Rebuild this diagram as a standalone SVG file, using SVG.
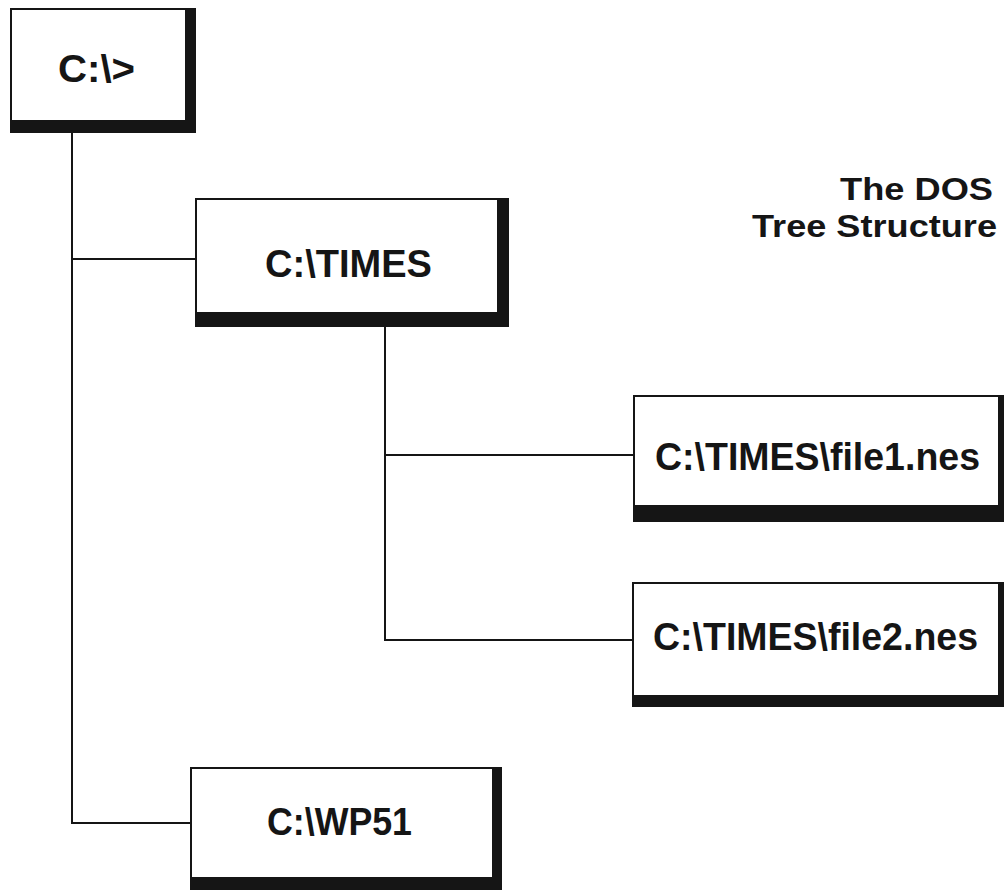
<svg xmlns="http://www.w3.org/2000/svg" width="1004" height="890" viewBox="0 0 1004 890">
<style>
.sh{fill:#151515}
.in{fill:#ffffff}
.lbl{font-family:"Liberation Sans",Arial,sans-serif;font-weight:bold;font-size:39px;fill:#151515}
.ttl{font-family:"Liberation Sans",Arial,sans-serif;font-weight:bold;font-size:31px;fill:#151515}
.cn{stroke:#151515;stroke-width:2;fill:none}
</style>
<rect width="1004" height="890" fill="#ffffff"/>
<g id="connectors">
<path class="cn" d="M72 133 V823 H190"/>
<path class="cn" d="M72 259 H195"/>
<path class="cn" d="M385 327 V640 H632"/>
<path class="cn" d="M385 455 H633"/>
</g>
<g id="node-root">
<rect class="sh" x="10" y="8" width="186" height="125"/>
<rect class="in" x="12" y="10" width="173" height="110"/>
<text class="lbl" x="58" y="82" textLength="77" lengthAdjust="spacingAndGlyphs">C:\&gt;</text>
</g>
<g id="node-times">
<rect class="sh" x="195" y="198" width="314" height="129"/>
<rect class="in" x="197" y="200" width="300" height="112"/>
<text class="lbl" x="265" y="277" textLength="167" lengthAdjust="spacingAndGlyphs">C:\TIMES</text>
</g>
<g id="node-file1">
<rect class="sh" x="633" y="395" width="375" height="127"/>
<rect class="in" x="635" y="397" width="363" height="108"/>
<text class="lbl" x="655" y="470" textLength="325" lengthAdjust="spacingAndGlyphs">C:\TIMES\file1.nes</text>
</g>
<g id="node-file2">
<rect class="sh" x="632" y="582" width="376" height="125"/>
<rect class="in" x="634" y="584" width="364" height="111"/>
<text class="lbl" x="653" y="650" textLength="325" lengthAdjust="spacingAndGlyphs">C:\TIMES\file2.nes</text>
</g>
<g id="node-wp51">
<rect class="sh" x="190" y="767" width="312" height="130"/>
<rect class="in" x="192" y="769" width="300" height="108"/>
<text class="lbl" x="267" y="835" textLength="145" lengthAdjust="spacingAndGlyphs">C:\WP51</text>
</g>
<g id="title">
<text class="ttl" x="840" y="200" textLength="153" lengthAdjust="spacingAndGlyphs">The DOS</text>
<text class="ttl" x="752" y="237" textLength="245" lengthAdjust="spacingAndGlyphs">Tree Structure</text>
</g>
</svg>
